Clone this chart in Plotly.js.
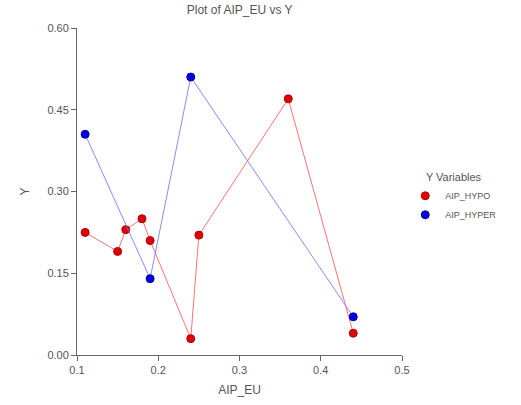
<!DOCTYPE html>
<html>
<head>
<meta charset="utf-8">
<script src="https://cdn.plot.ly/plotly-3.0.1.min.js"></script>
<style>html,body{margin:0;padding:0;background:#fff;}#chart{width:521px;height:405px;}</style>
</head>
<body>
<div id="chart"></div>
<script>
const hypoX = [0.11, 0.15, 0.16, 0.18, 0.19, 0.24, 0.25, 0.36, 0.44];
const hypoY = [0.225, 0.19, 0.23, 0.25, 0.21, 0.03, 0.22, 0.47, 0.04];
const hyperX = [0.11, 0.19, 0.24, 0.44];
const hyperY = [0.405, 0.14, 0.51, 0.07];
const seriesNames = ['AIP_HYPO', 'AIP_HYPER'];

const font = {family: 'Arial, Liberation Sans, sans-serif', color: '#555', size: 11};

const hypoMarker = {color: '#e00000', size: 8, line: {color: '#b00000', width: 1}};
const hyperMarker = {color: '#0000e0', size: 8, line: {color: '#0000a0', width: 1}};

const traces = [
  {x: hypoX, y: hypoY, name: seriesNames[0], mode: 'lines+markers', type: 'scatter', showlegend: false,
   line: {color: 'rgba(255,80,80,0.8)', width: 1}, marker: hypoMarker},
  {x: hyperX, y: hyperY, name: seriesNames[1], mode: 'lines+markers', type: 'scatter', showlegend: false,
   line: {color: 'rgba(110,110,255,0.8)', width: 1}, marker: hyperMarker},
  {x: [null], y: [null], name: seriesNames[0], mode: 'markers', type: 'scatter', marker: hypoMarker},
  {x: [null], y: [null], name: seriesNames[1], mode: 'markers', type: 'scatter', marker: hyperMarker}
];

const layout = {
  width: 521, height: 405,
  margin: {l: 77, r: 119, t: 28, b: 50},
  paper_bgcolor: '#fff', plot_bgcolor: '#fff',
  font: font,
  showlegend: true,
  title: {text: 'Plot of AIP_EU vs Y', x: 0.46, xanchor: 'center', y: 0.985, yanchor: 'top', font: {size: 12, color: '#555'}},
  xaxis: {range: [0.1, 0.5], dtick: 0.1, tick0: 0.1, tickformat: '.1f', showgrid: false, zeroline: false,
    showline: true, linecolor: '#666', linewidth: 1, ticks: 'outside', ticklen: 5, tickcolor: '#666',
    title: {text: 'AIP_EU', font: {size: 12, color: '#555'}, standoff: 10}},
  yaxis: {range: [0, 0.6], dtick: 0.15, tick0: 0, tickformat: '.2f', showgrid: false, zeroline: false,
    showline: true, linecolor: '#666', linewidth: 1, ticks: 'outside', ticklen: 5, tickcolor: '#666',
    title: {text: 'Y', font: {size: 12, color: '#555'}, standoff: 15}},
  legend: {x: 1.01, y: 0.575, xanchor: 'left', yanchor: 'top', itemwidth: 30,
    title: {text: 'Y Variables', side: 'top center', font: {size: 11, color: '#555'}},
    font: {size: 9, color: '#555'}, itemsizing: 'trace', tracegroupgap: 0}
};

Plotly.newPlot('chart', traces, layout, {displayModeBar: false, staticPlot: true});
</script>
</body>
</html>
